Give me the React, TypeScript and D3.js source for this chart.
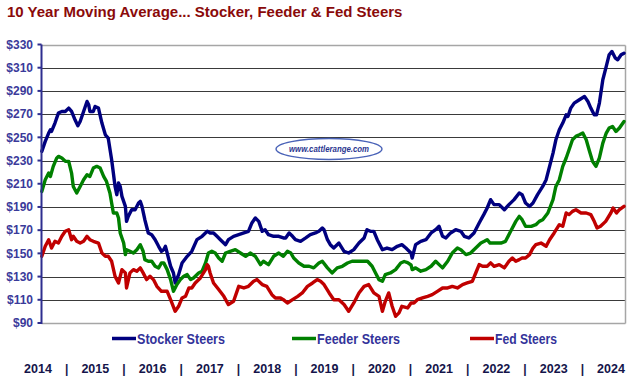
import React from "react";
import * as d3 from "d3";

type Pt = [number, number];

const title = "10 Year Moving Average... Stocker, Feeder & Fed Steers";
const yTicks = [90, 110, 130, 150, 170, 190, 210, 230, 250, 270, 290, 310, 330];
const yearLabels = ["2014", "2015", "2016", "2017", "2018", "2019", "2020", "2021", "2022", "2023", "2024"];
const seriesNames = ["Stocker Steers", "Feeder Steers", "Fed Steers"];
const seriesColors = ["#00007f", "#008000", "#c00000"];

const stocker: Pt[] = [
  [2014.0, 237.9], [2014.06, 246.5], [2014.12, 253.7], [2014.15, 256.5], [2014.17, 255.1], [2014.23, 262.3],
  [2014.29, 270.9], [2014.35, 272.3], [2014.41, 272.3], [2014.47, 275.2], [2014.52, 272.3], [2014.58, 265.1],
  [2014.63, 260], [2014.67, 263.7], [2014.73, 272.3], [2014.79, 280.9], [2014.82, 278], [2014.84, 272.3],
  [2014.9, 272.3], [2014.93, 276.6], [2014.99, 275.2], [2015.05, 262.3], [2015.11, 252.2], [2015.16, 249.4],
  [2015.22, 230.7], [2015.25, 219.2], [2015.28, 207.7], [2015.31, 200.6], [2015.34, 210.6], [2015.37, 207.7],
  [2015.4, 199.1], [2015.46, 190.5], [2015.48, 177.6], [2015.51, 181.9], [2015.57, 187.6], [2015.63, 187.6],
  [2015.69, 193.4], [2015.72, 194.8], [2015.75, 190.5], [2015.8, 179], [2015.86, 167.6], [2015.92, 166.1],
  [2015.98, 161.8], [2016.04, 156.1], [2016.09, 151.8], [2016.13, 153.2], [2016.16, 156.1], [2016.19, 150.3],
  [2016.25, 138.9], [2016.3, 133.1], [2016.33, 124.5], [2016.39, 131.7], [2016.45, 141.7], [2016.54, 147.5],
  [2016.62, 151.8], [2016.71, 161.8], [2016.8, 164.7], [2016.89, 169], [2016.94, 167.6], [2017.0, 167.6],
  [2017.06, 164.7], [2017.12, 161.8], [2017.21, 157.5], [2017.26, 161.8], [2017.35, 164.7], [2017.44, 166.1],
  [2017.53, 167.6], [2017.61, 169], [2017.67, 176.2], [2017.73, 180.5], [2017.79, 177.6], [2017.85, 169],
  [2017.9, 170.4], [2017.96, 166.1], [2018.05, 164.7], [2018.14, 164.7], [2018.22, 163.3], [2018.26, 163.3],
  [2018.32, 167.6], [2018.38, 164.7], [2018.43, 161.8], [2018.52, 160.4], [2018.61, 163.3], [2018.69, 166.1],
  [2018.78, 167.6], [2018.84, 169], [2018.9, 171.9], [2018.93, 170.4], [2018.99, 161.8], [2019.04, 157.5],
  [2019.1, 154.6], [2019.19, 158.9], [2019.28, 151.8], [2019.36, 150.3], [2019.45, 153.2], [2019.54, 158.9],
  [2019.63, 163.3], [2019.68, 170.4], [2019.74, 169], [2019.8, 169], [2019.86, 161.8], [2019.95, 153.2],
  [2020.03, 154.6], [2020.12, 153.2], [2020.21, 156.1], [2020.29, 157.5], [2020.36, 154.6], [2020.39, 153.2],
  [2020.45, 150.3], [2020.47, 146], [2020.53, 157.5], [2020.62, 160.4], [2020.71, 161.8], [2020.8, 167.6],
  [2020.88, 170.4], [2020.94, 173.3], [2021.0, 164.7], [2021.06, 163.3], [2021.14, 167.6], [2021.23, 170.4],
  [2021.32, 169], [2021.38, 164.7], [2021.46, 163.3], [2021.55, 167.6], [2021.64, 176.2], [2021.72, 183.4],
  [2021.78, 189.1], [2021.84, 196.3], [2021.9, 192], [2021.99, 192], [2022.08, 187.6], [2022.16, 192],
  [2022.25, 196.3], [2022.34, 202], [2022.39, 200.6], [2022.45, 193.4], [2022.52, 190.5], [2022.58, 193.4],
  [2022.66, 200.6], [2022.75, 207.7], [2022.81, 213.5], [2022.87, 225], [2022.93, 236.4], [2022.98, 247.9],
  [2023.04, 256.5], [2023.1, 262.3], [2023.16, 269.4], [2023.19, 268], [2023.24, 275.2], [2023.3, 279.5],
  [2023.39, 282.4], [2023.48, 285.2], [2023.54, 280.9], [2023.59, 275.2], [2023.65, 269.4], [2023.69, 269.4],
  [2023.74, 279.5], [2023.8, 299.6], [2023.86, 311.1], [2023.91, 321.1], [2023.96, 324], [2024.02, 318.2],
  [2024.06, 316.8], [2024.12, 321.1], [2024.17, 322.5],
];

const feeder: Pt[] = [
  [2014.0, 203.4], [2014.06, 213.5], [2014.12, 219.2], [2014.15, 216.3], [2014.2, 225], [2014.26, 232.1],
  [2014.29, 233.6], [2014.35, 232.1], [2014.41, 229.3], [2014.47, 229.3], [2014.52, 219.2], [2014.55, 207.7],
  [2014.61, 202], [2014.67, 207.7], [2014.73, 213.5], [2014.79, 217.8], [2014.84, 216.3], [2014.9, 223.5],
  [2014.96, 225], [2015.02, 223.5], [2015.08, 216.3], [2015.13, 212], [2015.19, 202], [2015.22, 193.4],
  [2015.25, 184.8], [2015.31, 184.8], [2015.34, 180.5], [2015.37, 167.6], [2015.43, 159], [2015.46, 148.9],
  [2015.48, 153.2], [2015.54, 151.8], [2015.6, 150.3], [2015.66, 153.2], [2015.72, 157.5], [2015.77, 151.8],
  [2015.8, 144.6], [2015.86, 143.2], [2015.92, 143.2], [2015.98, 138.9], [2016.04, 137.4], [2016.09, 141.8],
  [2016.13, 141.8], [2016.19, 136], [2016.25, 127.4], [2016.3, 117.3], [2016.36, 123.1], [2016.42, 127.4],
  [2016.48, 130.2], [2016.54, 131.7], [2016.6, 127.4], [2016.65, 128.8], [2016.74, 133.1], [2016.8, 134.6],
  [2016.86, 141.7], [2016.91, 150.3], [2016.97, 151.8], [2017.03, 150.3], [2017.09, 146], [2017.15, 143.2],
  [2017.21, 150.3], [2017.29, 151.8], [2017.38, 153.2], [2017.47, 150.3], [2017.56, 147.5], [2017.64, 150.3],
  [2017.73, 147.5], [2017.82, 140.3], [2017.87, 143.2], [2017.96, 140.3], [2018.05, 147.5], [2018.14, 150.3],
  [2018.22, 147.5], [2018.29, 151.8], [2018.35, 150.3], [2018.4, 146], [2018.49, 141.7], [2018.58, 138.9],
  [2018.67, 138.9], [2018.75, 137.5], [2018.84, 141.7], [2018.9, 143.2], [2018.99, 137.5], [2019.07, 133.1],
  [2019.16, 137.5], [2019.25, 138.9], [2019.34, 141.7], [2019.42, 143.2], [2019.51, 143.2], [2019.6, 143.2],
  [2019.69, 143.2], [2019.77, 138.9], [2019.83, 133.1], [2019.89, 127.4], [2019.95, 126], [2020.0, 131.7],
  [2020.09, 133.1], [2020.18, 136], [2020.27, 141.7], [2020.33, 143], [2020.39, 142], [2020.45, 140],
  [2020.47, 136], [2020.53, 137.5], [2020.62, 134.6], [2020.71, 136], [2020.8, 138.9], [2020.88, 143.2],
  [2020.94, 140.3], [2021.0, 137.5], [2021.09, 143.2], [2021.17, 150.3], [2021.26, 154.6], [2021.32, 153.2],
  [2021.41, 148.9], [2021.49, 150.3], [2021.58, 154.6], [2021.67, 158.9], [2021.73, 160.4], [2021.78, 161.8],
  [2021.83, 158.9], [2021.9, 158.9], [2022.02, 158.9], [2022.1, 160.4], [2022.19, 169], [2022.28, 177.6],
  [2022.34, 181.9], [2022.39, 179], [2022.45, 173.3], [2022.55, 173.3], [2022.63, 174.7], [2022.69, 177.6],
  [2022.75, 179], [2022.84, 184.8], [2022.93, 196.3], [2022.98, 207.7], [2023.04, 213.5], [2023.1, 225],
  [2023.16, 232.2], [2023.21, 239.3], [2023.27, 247.9], [2023.33, 250.8], [2023.39, 252.2], [2023.45, 253.7],
  [2023.51, 247.9], [2023.56, 239.3], [2023.62, 229.3], [2023.68, 225], [2023.74, 232.2], [2023.8, 245],
  [2023.86, 253.7], [2023.91, 258], [2023.97, 259.4], [2024.03, 255.1], [2024.09, 258], [2024.17, 263.7],
];

const fed: Pt[] = [
  [2014.0, 147.5], [2014.06, 156.1], [2014.12, 161.8], [2014.17, 154.6], [2014.23, 160.4], [2014.29, 158.9],
  [2014.35, 164.7], [2014.41, 169], [2014.47, 170.4], [2014.52, 161.8], [2014.55, 164.7], [2014.61, 160.4],
  [2014.67, 158.9], [2014.73, 160.4], [2014.79, 164.7], [2014.84, 161.8], [2014.9, 160.4], [2014.99, 158.9],
  [2015.05, 150.3], [2015.11, 147.5], [2015.16, 147.5], [2015.22, 143.2], [2015.28, 130.2], [2015.34, 124.5],
  [2015.4, 136], [2015.46, 133.2], [2015.48, 120.2], [2015.54, 133.2], [2015.6, 136], [2015.66, 134.6],
  [2015.72, 137.5], [2015.77, 133.2], [2015.83, 127.4], [2015.89, 130.3], [2015.95, 127.4], [2016.01, 121.6],
  [2016.09, 117.3], [2016.19, 117.3], [2016.25, 110.1], [2016.33, 100.1], [2016.39, 104.4], [2016.45, 111.6],
  [2016.51, 113], [2016.57, 120.2], [2016.62, 120.2], [2016.68, 124.5], [2016.77, 128.8], [2016.86, 136],
  [2016.89, 140.3], [2016.91, 138.9], [2016.94, 133.1], [2017.0, 124.5], [2017.09, 118.8], [2017.18, 113],
  [2017.26, 105.9], [2017.35, 108.7], [2017.44, 121.6], [2017.53, 120.2], [2017.61, 121.6], [2017.7, 125.9],
  [2017.76, 127.4], [2017.85, 123.1], [2017.93, 121.6], [2018.02, 114.4], [2018.08, 111.6], [2018.17, 111.6],
  [2018.22, 110.1], [2018.29, 107.2], [2018.38, 110.1], [2018.47, 113], [2018.55, 115.9], [2018.64, 121.6],
  [2018.73, 124.5], [2018.81, 127.4], [2018.87, 125.9], [2018.93, 123.1], [2019.02, 115.9], [2019.1, 110.1],
  [2019.19, 110.1], [2019.28, 105.9], [2019.36, 100.1], [2019.45, 107.3], [2019.54, 115.9], [2019.63, 121.6],
  [2019.71, 123.1], [2019.8, 115.9], [2019.89, 113], [2019.95, 100.1], [2020.0, 108.7], [2020.06, 115.9],
  [2020.12, 104.4], [2020.18, 95.8], [2020.24, 98.7], [2020.29, 104.4], [2020.39, 103], [2020.45, 107.2],
  [2020.5, 107.2], [2020.56, 110.1], [2020.65, 111.6], [2020.74, 113], [2020.82, 114.4], [2020.91, 117.3],
  [2021.0, 120.2], [2021.09, 120.2], [2021.17, 121.6], [2021.26, 120.2], [2021.35, 123.1], [2021.43, 124.5],
  [2021.52, 125.9], [2021.58, 133.1], [2021.64, 140.3], [2021.7, 138.9], [2021.78, 138.9], [2021.84, 141.8],
  [2021.9, 138.9], [2021.99, 140.3], [2022.08, 137.5], [2022.16, 143.2], [2022.22, 146], [2022.28, 143.2],
  [2022.34, 144.6], [2022.39, 146], [2022.45, 146], [2022.52, 148.9], [2022.58, 154.6], [2022.63, 157.5],
  [2022.72, 158.9], [2022.81, 156.1], [2022.87, 161.8], [2022.95, 167.6], [2023.04, 174.7], [2023.1, 173.3],
  [2023.16, 184.8], [2023.21, 183.4], [2023.27, 186.2], [2023.33, 187.6], [2023.42, 184.8], [2023.51, 184.8],
  [2023.59, 183.4], [2023.65, 177.6], [2023.7, 171.9], [2023.76, 173.3], [2023.85, 177.6], [2023.94, 184.8],
  [2023.98, 189.1], [2024.04, 184.8], [2024.09, 187.6], [2024.17, 190.5],
];

const W = 643;
const H = 377;
const plot = { left: 41.5, right: 625.5, top: 44.5, bottom: 323 };

export default function App() {
  const x = d3.scaleLinear().domain([2014, 2024.17]).range([41.8, 624]);
  const y = d3.scaleLinear().domain([90, 330]).range([plot.bottom, plot.top]);
  const line = d3
    .line<Pt>()
    .x((d) => x(d[0]))
    .y((d) => y(d[1]))
    .curve(d3.curveLinear);
  const series = [stocker, feeder, fed];
  const yearX = d3.scalePoint<string>().domain(yearLabels).range([38, 611]);
  const step = yearX.step();
  const legendX = [112, 292, 470];
  const legendW = [88, 83, 62];
  const axisBlue = "#2e2e8f";

  return (
    <svg width={W} height={H} style={{ position: "absolute", left: 0, top: 0, background: "#fff" }}>
      <rect x={0} y={0} width={W} height={H} fill="#fff" />
      <text x={7} y={17} fontFamily="Liberation Sans, Arial, sans-serif" fontWeight="bold" fontSize={15} fill="#8a0a0a">
        {title}
      </text>
      {/* gridlines */}
      {yTicks.map((t) => {
        const yy = Math.round(y(t)) + 0.5;
        const edge = t === 90 || t === 330;
        return (
          <line key={t} x1={plot.left} x2={plot.right} y1={yy} y2={yy} stroke={edge ? "#a6a6a6" : "#3a3a3a"} strokeWidth={edge ? 1.5 : 1} />
        );
      })}
      <line x1={plot.right} x2={plot.right} y1={Math.round(y(330)) + 0.5} y2={Math.round(y(90)) + 0.5} stroke="#a6a6a6" strokeWidth={1.5} />
      {/* logo */}
      <ellipse cx={329} cy={149} rx={53} ry={10.5} fill="#fff" stroke="#4a63b8" strokeWidth={1.3} />
      <text x={329} y={152} textAnchor="middle" fontFamily="Liberation Sans Narrow, Liberation Sans, Arial, sans-serif" fontStyle="italic" fontWeight="bold" fontSize={9.5} fill="#2a3590" textLength={80} lengthAdjust="spacingAndGlyphs">
        www.cattlerange.com
      </text>
      {/* series */}
      {series.map((s, i) => (
        <path key={i} d={line(s) || ""} fill="none" stroke={seriesColors[i]} strokeWidth={3.4} strokeLinejoin="round" strokeLinecap="round" />
      ))}
      {/* y axis */}
      <line x1={plot.left} x2={plot.left} y1={y(330)} y2={y(90) + 1} stroke={axisBlue} strokeWidth={2} />
      {yTicks.map((t) => (
        <g key={t}>
          <line x1={plot.left - 4} x2={plot.left} y1={y(t)} y2={y(t)} stroke={axisBlue} strokeWidth={2} />
          <text x={33} y={y(t) + 4.3} textAnchor="end" fontFamily="Liberation Sans, Arial, sans-serif" fontWeight="bold" fontSize={12} fill="#3a3a9a">
            {`$${t}`}
          </text>
        </g>
      ))}
      {/* legend */}
      {seriesNames.map((n, i) => (
        <g key={n}>
          <line x1={legendX[i]} x2={legendX[i] + 24} y1={338.5} y2={338.5} stroke={seriesColors[i]} strokeWidth={3.5} />
          <text x={legendX[i] + 25} y={344} fontFamily="Liberation Sans Narrow, Liberation Sans, Arial, sans-serif" fontWeight="bold" fontSize={15} fill="#33339a" textLength={legendW[i]} lengthAdjust="spacingAndGlyphs">
            {n}
          </text>
        </g>
      ))}
      {/* year labels */}
      {yearLabels.map((yr, i) => (
        <g key={yr}>
          <text x={yearX(yr)} y={373} textAnchor="middle" fontFamily="Liberation Sans Narrow, Liberation Sans, Arial, sans-serif" fontWeight="bold" fontSize={12.5} fill="#14144a">
            {yr}
          </text>
          {i < yearLabels.length - 1 && (
            <text x={(yearX(yr) as number) + step / 2} y={373} textAnchor="middle" fontFamily="Liberation Sans, Arial, sans-serif" fontWeight="bold" fontSize={12} fill="#14144a">
              |
            </text>
          )}
        </g>
      ))}
    </svg>
  );
}
